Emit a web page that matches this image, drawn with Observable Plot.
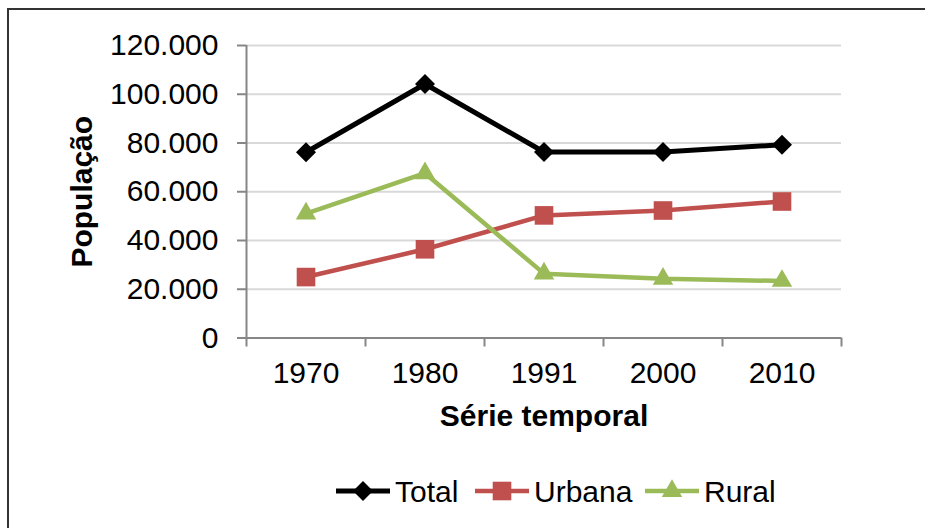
<!DOCTYPE html>
<html>
<head>
<meta charset="utf-8">
<script src="https://cdn.jsdelivr.net/npm/d3@7"></script>
<script src="https://cdn.jsdelivr.net/npm/@observablehq/plot@0.6"></script>
<style>
  html, body { margin: 0; padding: 0; background: #fff; }
  #wrap { position: relative; width: 925px; height: 528px; overflow: hidden; background: #fff;
          font-family: "Liberation Sans", Arial, sans-serif; }
  #border { position: absolute; left: 7px; top: 8px; width: 1000px; height: 1000px;
            border-left: 2px solid #333; border-top: 2px solid #333; }
  #chart { position: absolute; left: 0; top: 0; }
  #legend { position: absolute; left: 0; top: 460px; }
</style>
</head>
<body>
<div id="wrap"><div id="border"></div><div id="chart"></div><div id="legend"></div></div>
<script>
// ---- data ----
const years = ["1970", "1980", "1991", "2000", "2010"];
const seriesNames = ["Total", "Urbana", "Rural"];
const total  = [76200, 104200, 76300, 76300, 79300];
const urbana = [25000, 36400, 50300, 52300, 56000];
const rural  = [51000, 67600, 26400, 24300, 23400];
const yTicks = [0, 20000, 40000, 60000, 80000, 100000, 120000];
const colors = ["#000000", "#C0504D", "#9BBB59"];
const symbols = ["diamond2", "square", "triangle"];
const yTitle = "População";
const xTitle = "Série temporal";

const seriesValues = [total, urbana, rural];
const rows = [];
seriesNames.forEach((s, k) => years.forEach((yr, i) => rows.push({series: s, i, year: yr, value: seriesValues[k][i]})));

const idx = years.map((_, i) => i);
const bounds = years.map((_, i) => i - 0.5).concat([years.length - 0.5]);
const fmt = d3.formatLocale({decimal: ",", thousands: ".", grouping: [3], currency: ["R$ ", ""]}).format(",");

const font = "Liberation Sans, Arial, sans-serif";
const radii = [9, 10.5, 7.6];
const widths = [5, 4.5, 4.5];
const plot = Plot.plot({
  width: 925,
  height: 450,
  marginLeft: 246,
  marginRight: 84,
  marginTop: 45,
  marginBottom: 112.5,
  style: {fontFamily: font, fontSize: "30px", color: "#000", background: "transparent"},
  x: {type: "linear", domain: [bounds[0], bounds[bounds.length - 1]]},
  y: {domain: [yTicks[0], yTicks[yTicks.length - 1]]},
  marks: [
    Plot.gridY(yTicks.slice(1), {stroke: "#d9d9d9", strokeOpacity: 1, strokeWidth: 1.8}),
    Plot.ruleY([yTicks[0]], {stroke: "#868686", strokeWidth: 2}),
    Plot.ruleX([bounds[0]], {stroke: "#868686", strokeWidth: 2}),
    Plot.axisY({ticks: yTicks, tickFormat: fmt, tickSize: 9, tickPadding: 19, stroke: "#868686", strokeWidth: 2, fill: "#000", label: null, fontSize: 30}),
    Plot.axisX({ticks: bounds, tickFormat: () => "", tickSize: 9, stroke: "#868686", strokeWidth: 2, label: null}),
    Plot.axisX({ticks: idx, tickFormat: i => years[i], tickSize: 0, tickPadding: 24, fill: "#000", label: null, fontSize: 30}),
    ...seriesNames.map((s, k) => Plot.line(rows.filter(d => d.series === s), {
      x: "i", y: "value", stroke: colors[k], strokeWidth: widths[k], strokeLinejoin: "miter", strokeLinecap: "butt"
    })),
    ...seriesNames.map((s, k) => Plot.dot(rows.filter(d => d.series === s), {
      x: "i", y: "value", symbol: symbols[k], fill: colors[k], stroke: "none", r: radii[k]
    })),
    Plot.text([yTitle], {frameAnchor: "left", dx: -164, rotate: -90, text: d => d, fontWeight: "bold", fontSize: 30, textAnchor: "middle", lineAnchor: "middle", fill: "#000"}),
    Plot.text([xTitle], {frameAnchor: "bottom", dy: 78, text: d => d, fontWeight: "bold", fontSize: 30, textAnchor: "middle", lineAnchor: "middle", fill: "#000"})
  ]
});
document.getElementById("chart").appendChild(plot);

// ---- legend ----
const legendX = [336, 475, 645];
const lg = d3.select("#legend").append("svg").attr("width", 925).attr("height", 60);
const symTypes = [d3.symbolDiamond2, d3.symbolSquare, d3.symbolTriangle];
seriesNames.forEach((s, k) => {
  const g = lg.append("g").attr("transform", `translate(${legendX[k]},31)`);
  g.append("line").attr("x1", 0).attr("x2", 54).attr("y1", 0).attr("y2", 0)
    .attr("stroke", colors[k]).attr("stroke-width", widths[k]);
  g.append("path").attr("d", d3.symbol(symTypes[k], Math.PI * radii[k] * radii[k])()).attr("transform", "translate(27,0)").attr("fill", colors[k]);
  g.append("text").attr("x", 59).attr("y", 0).attr("dy", "0.35em").attr("font-family", font).attr("font-size", 30).attr("fill", "#000").text(s);
});
</script>
</body>
</html>
